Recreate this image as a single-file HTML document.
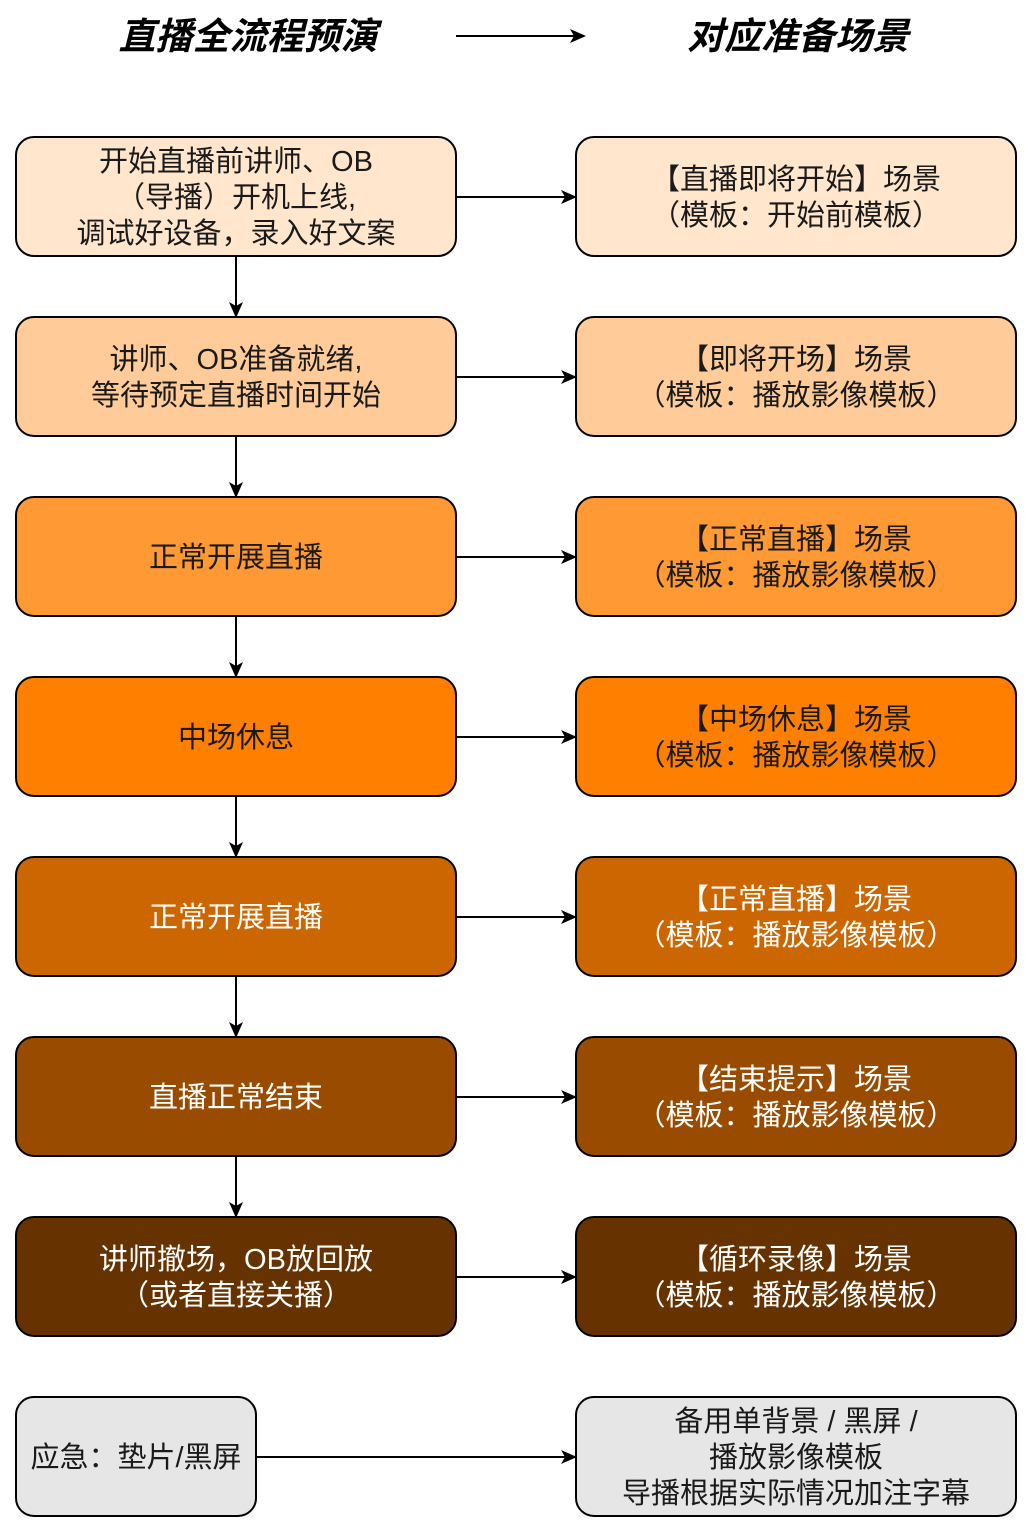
<!DOCTYPE html>
<html><head><meta charset="utf-8"><style>
body{margin:0;background:#fff}
svg text{font-family:"Liberation Sans","Noto Sans CJK SC",sans-serif;font-size:29px;text-anchor:middle}
</style></head><body>
<svg width="1034" height="1534" viewBox="0 0 1034 1534">
<defs><marker id="a" markerWidth="16" markerHeight="16" refX="14" refY="8" orient="auto" markerUnits="userSpaceOnUse"><path d="M0,1 L16,8 L0,15 L4,8 Z" fill="#000"/></marker></defs>
<text x="248" y="49" style="font-size:37px;font-weight:bold;font-style:italic">直播全流程预演</text>
<text x="798" y="49" style="font-size:37px;font-weight:bold;font-style:italic">对应准备场景</text>
<line x1="456" y1="36" x2="584" y2="36" stroke="#000" stroke-width="2" marker-end="url(#a)"/>
<g stroke="#000" stroke-width="2">
<rect x="16" y="137" width="440" height="119" rx="18" fill="#ffe6cc"/>
<rect x="576" y="137" width="440" height="119" rx="18" fill="#ffe6cc"/>
<rect x="16" y="317" width="440" height="119" rx="18" fill="#ffcc99"/>
<rect x="576" y="317" width="440" height="119" rx="18" fill="#ffcc99"/>
<rect x="16" y="497" width="440" height="119" rx="18" fill="#ff9933"/>
<rect x="576" y="497" width="440" height="119" rx="18" fill="#ff9933"/>
<rect x="16" y="677" width="440" height="119" rx="18" fill="#ff8000"/>
<rect x="576" y="677" width="440" height="119" rx="18" fill="#ff8000"/>
<rect x="16" y="857" width="440" height="119" rx="18" fill="#cc6600"/>
<rect x="576" y="857" width="440" height="119" rx="18" fill="#cc6600"/>
<rect x="16" y="1037" width="440" height="119" rx="18" fill="#994c00"/>
<rect x="576" y="1037" width="440" height="119" rx="18" fill="#994c00"/>
<rect x="16" y="1217" width="440" height="119" rx="18" fill="#663300"/>
<rect x="576" y="1217" width="440" height="119" rx="18" fill="#663300"/>
<rect x="16" y="1397" width="240" height="119" rx="18" fill="#e6e6e6"/>
<rect x="576" y="1397" width="440" height="119" rx="18" fill="#e6e6e6"/>
</g>
<g stroke="#000" stroke-width="2" marker-end="url(#a)">
<line x1="456" y1="197" x2="575" y2="197"/>
<line x1="456" y1="377" x2="575" y2="377"/>
<line x1="456" y1="557" x2="575" y2="557"/>
<line x1="456" y1="737" x2="575" y2="737"/>
<line x1="456" y1="917" x2="575" y2="917"/>
<line x1="456" y1="1097" x2="575" y2="1097"/>
<line x1="456" y1="1277" x2="575" y2="1277"/>
<line x1="256" y1="1457" x2="575" y2="1457"/>
<line x1="236" y1="256" x2="236" y2="316"/>
<line x1="236" y1="436" x2="236" y2="496"/>
<line x1="236" y1="616" x2="236" y2="676"/>
<line x1="236" y1="796" x2="236" y2="856"/>
<line x1="236" y1="976" x2="236" y2="1036"/>
<line x1="236" y1="1156" x2="236" y2="1216"/>
</g>
<g fill="#1a1a1a">
<text x="236" y="171">开始直播前讲师、OB</text>
<text x="236" y="207">（导播）开机上线,</text>
<text x="236" y="243">调试好设备，录入好文案</text>
<text x="796" y="189">【直播即将开始】场景</text>
<text x="796" y="225">（模板：开始前模板）</text>
<text x="236" y="369">讲师、OB准备就绪,</text>
<text x="236" y="405">等待预定直播时间开始</text>
<text x="796" y="369">【即将开场】场景</text>
<text x="796" y="405">（模板：播放影像模板）</text>
<text x="236" y="567">正常开展直播</text>
<text x="796" y="549">【正常直播】场景</text>
<text x="796" y="585">（模板：播放影像模板）</text>
<text x="236" y="747">中场休息</text>
<text x="796" y="729">【中场休息】场景</text>
<text x="796" y="765">（模板：播放影像模板）</text>
<text x="136" y="1467">应急：垫片/黑屏</text>
<text x="796" y="1431">备用单背景 / 黑屏 /</text>
<text x="796" y="1467">播放影像模板</text>
<text x="796" y="1503">导播根据实际情况加注字幕</text>
</g>
<g fill="#fff">
<text x="236" y="927">正常开展直播</text>
<text x="796" y="909">【正常直播】场景</text>
<text x="796" y="945">（模板：播放影像模板）</text>
<text x="236" y="1107">直播正常结束</text>
<text x="796" y="1089">【结束提示】场景</text>
<text x="796" y="1125">（模板：播放影像模板）</text>
<text x="236" y="1269">讲师撤场，OB放回放</text>
<text x="236" y="1305">（或者直接关播）</text>
<text x="796" y="1269">【循环录像】场景</text>
<text x="796" y="1305">（模板：播放影像模板）</text>
</g>
</svg>
</body></html>
